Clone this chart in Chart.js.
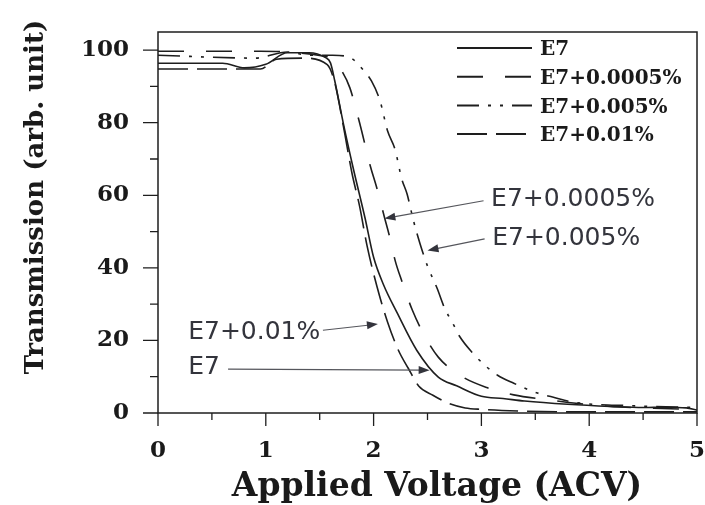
<!DOCTYPE html>
<html>
<head>
<meta charset="utf-8">
<script src="https://cdn.jsdelivr.net/npm/chart.js@4.4.1/dist/chart.umd.min.js"></script>
<style>
    html, body { margin: 0; padding: 0; background: #fff; }
</style>
</head>
<body>
<canvas id="myChart" width="705" height="505"></canvas>
<script>
// series names (legend order)
const seriesNames = ['E7', 'E7+0.0005%', 'E7+0.005%', 'E7+0.01%'];

// E7
const e7Voltage = [0, 0.6, 0.8, 1.0, 1.2, 1.4, 1.55, 1.6, 1.64, 1.72, 1.81, 1.92, 2.0, 2.09, 2.22, 2.4, 2.6, 2.77, 3.0, 3.2, 3.4, 3.8, 4.2, 4.5, 4.7, 4.9, 5.0];
const e7Trans = [96.4, 96.4, 95.1, 96.1, 99.3, 99.3, 98.0, 96.5, 91.5, 79.7, 67.6, 53.8, 42.9, 35.5, 27.5, 17.3, 9.9, 7.5, 4.6, 4.0, 3.3, 2.4, 1.8, 1.5, 1.6, 1.4, 0.8];

// E7+0.0005%
const e7a005Voltage = [0, 0.95, 1.2, 1.5, 1.62, 1.7, 1.78, 1.87, 1.97, 2.03, 2.1, 2.15, 2.2, 2.26, 2.36, 2.46, 2.6, 2.8, 3.05, 3.3, 3.6, 3.9, 4.2, 4.6, 5.0];
const e7a005Trans = [99.7, 99.7, 99.5, 98.5, 97.5, 94.5, 89.6, 80, 68, 62, 54, 48.4, 42, 36.5, 28.3, 22, 15.4, 10.4, 7, 5, 3.7, 2.6, 1.8, 1.3, 1.0];

// E7+0.005%
const e7b05Voltage = [0, 0.9, 1.2, 1.4, 1.62, 1.78, 1.89, 1.98, 2.06, 2.13, 2.2, 2.26, 2.31, 2.37, 2.43, 2.5, 2.59, 2.66, 2.73, 2.8, 2.92, 3.03, 3.15, 3.3, 3.52, 3.66, 3.85, 4.4, 5.0];
const e7b05Trans = [98.6, 97.8, 99.5, 98.6, 98.6, 98, 95, 91.5, 86, 77.7, 72.5, 64.6, 60.4, 53, 46.7, 40.5, 34.3, 28.8, 25, 21, 16.5, 13.2, 10.4, 8.2, 5.5, 4.4, 3.0, 2.0, 1.5];

// E7+0.01%
const e7c1Voltage = [0, 0.95, 1.1, 1.35, 1.57, 1.64, 1.72, 1.8, 1.87, 1.94, 2.03, 2.13, 2.23, 2.32, 2.42, 2.55, 2.7, 2.85, 3.0, 3.4, 4.0, 5.0];
const e7c1Trans = [94.8, 94.8, 97.5, 97.8, 96.0, 91, 79, 66, 57, 46, 35, 25, 17.3, 12.4, 7.4, 4.9, 2.6, 1.4, 1.0, 0.5, 0.3, 0.3];

// tick values
const xMajorTicks = [0, 1, 2, 3, 4, 5];
const xMinorTicks = [0.5, 1.5, 2.5, 3.5, 4.5];
const yMajorTicks = [0, 20, 40, 60, 80, 100];
const yMinorTicks = [10, 30, 50, 70, 90];

// arrow annotations (data coords)
const noteText = ['E7+0.0005%', 'E7+0.005%', 'E7+0.01%', 'E7'];
const noteAt = [[3.09, 58.8], [3.10, 48.2], [0.28, 22.3], [0.28, 12.6]];
const arrowFrom = [[3.02, 58.5], [3.03, 48.0], [1.53, 22.8], [0.65, 12.1]];
const arrowTo = [[2.10, 53.6], [2.50, 44.8], [2.04, 24.5], [2.52, 11.8]];

const lineDashes = [[], [26, 22], [22, 9, 3, 9, 3, 9], [30, 9]];

function toPoints(xs, ys) {
    return xs.map((x, i) => ({x: x, y: ys[i]}));
}

const serifBold = '"DejaVu Serif", serif';

const decor = {
    id: 'decor',
    afterDraw(chart) {
        const ctx = chart.ctx;
        const area = chart.chartArea;
        const xs = chart.scales.x;
        const ys = chart.scales.y;

        ctx.save();
        ctx.strokeStyle = '#1e1e1e';
        ctx.lineWidth = 1.5;
        ctx.setLineDash([]);
        ctx.strokeRect(area.left, area.top, area.right - area.left, area.bottom - area.top);

        // ticks
        ctx.lineWidth = 1.3;
        ctx.beginPath();
        xMajorTicks.forEach(v => {
            const px = xs.getPixelForValue(v);
            ctx.moveTo(px, area.bottom);
            ctx.lineTo(px, area.bottom + 13);
        });
        xMinorTicks.forEach(v => {
            const px = xs.getPixelForValue(v);
            ctx.moveTo(px, area.bottom);
            ctx.lineTo(px, area.bottom + 7);
        });
        yMajorTicks.forEach(v => {
            const py = ys.getPixelForValue(v);
            ctx.moveTo(area.left, py);
            ctx.lineTo(area.left - 15, py);
        });
        yMinorTicks.forEach(v => {
            const py = ys.getPixelForValue(v);
            ctx.moveTo(area.left, py);
            ctx.lineTo(area.left - 8, py);
        });
        ctx.stroke();

        // axis titles
        ctx.fillStyle = '#1a1a1a';
        ctx.font = 'bold 33px ' + serifBold;
        ctx.textAlign = 'center';
        ctx.textBaseline = 'middle';
        ctx.fillText('Applied Voltage (ACV)', 437, area.bottom + 74);

        ctx.save();
        ctx.translate(36, area.top + 165);
        ctx.rotate(-Math.PI / 2);
        ctx.font = 'bold 26px ' + serifBold;
        ctx.fillText('Transmission (arb. unit)', 0, 0);
        ctx.restore();

        // legend
        ctx.font = 'bold 20px ' + serifBold;
        ctx.textAlign = 'left';
        chart.data.datasets.forEach((ds, i) => {
            const y = area.top + 16 + i * 28.7;
            ctx.strokeStyle = '#1e1e1e';
            ctx.lineWidth = 2;
            ctx.setLineDash(ds.borderDash || []);
            ctx.beginPath();
            ctx.moveTo(area.right - 240, y);
            ctx.lineTo(area.right - 165, y);
            ctx.stroke();
            ctx.setLineDash([]);
            ctx.fillText(ds.label, area.right - 157, y + 2);
        });

        // arrow notes
        ctx.font = '25px "DejaVu Sans", sans-serif';
        noteText.forEach((t, i) => {
            ctx.fillStyle = '#33343c';
            ctx.fillText(t, xs.getPixelForValue(noteAt[i][0]), ys.getPixelForValue(noteAt[i][1]));
            const x0 = xs.getPixelForValue(arrowFrom[i][0]);
            const y0 = ys.getPixelForValue(arrowFrom[i][1]);
            const x1 = xs.getPixelForValue(arrowTo[i][0]);
            const y1 = ys.getPixelForValue(arrowTo[i][1]);
            const ang = Math.atan2(y1 - y0, x1 - x0);
            ctx.strokeStyle = '#55565c';
            ctx.lineWidth = 1.2;
            ctx.beginPath();
            ctx.moveTo(x0, y0);
            ctx.lineTo(x1 - 8 * Math.cos(ang), y1 - 8 * Math.sin(ang));
            ctx.stroke();
            ctx.beginPath();
            ctx.moveTo(x1, y1);
            ctx.lineTo(x1 - 11 * Math.cos(ang) + 4 * Math.sin(ang), y1 - 11 * Math.sin(ang) - 4 * Math.cos(ang));
            ctx.lineTo(x1 - 11 * Math.cos(ang) - 4 * Math.sin(ang), y1 - 11 * Math.sin(ang) + 4 * Math.cos(ang));
            ctx.closePath();
            ctx.fill();
        });
        ctx.restore();
    }
};

const seriesX = [e7Voltage, e7a005Voltage, e7b05Voltage, e7c1Voltage];
const seriesY = [e7Trans, e7a005Trans, e7b05Trans, e7c1Trans];

const datasets = seriesNames.map((name, i) => ({
    label: name,
    data: toPoints(seriesX[i], seriesY[i]),
    borderColor: '#1e1e1e',
    borderWidth: 1.6,
    borderDash: lineDashes[i],
    pointRadius: 0,
    fill: false,
    cubicInterpolationMode: 'monotone'
}));

const myChart = new Chart(document.getElementById('myChart'), {
    type: 'line',
    data: {datasets: datasets},
    plugins: [decor],
    options: {
        responsive: false,
        animation: false,
        devicePixelRatio: 1,
        layout: {padding: {top: 32, right: 8, left: 0, bottom: 0}},
        plugins: {
            legend: {display: false},
            tooltip: {enabled: false}
        },
        scales: {
            x: {
                type: 'linear',
                min: 0,
                max: 5,
                grid: {display: false},
                border: {display: false},
                ticks: {
                    stepSize: 1,
                    padding: 16,
                    color: '#1a1a1a',
                    font: {family: serifBold, size: 23, weight: 'bold'}
                },
                afterFit(scale) {
                    scale.height = 92;
                    scale.paddingLeft = 0;
                    scale.paddingRight = 0;
                }
            },
            y: {
                min: 0,
                max: 105,
                grid: {display: false},
                border: {display: false},
                ticks: {
                    stepSize: 20,
                    includeBounds: false,
                    padding: 21,
                    color: '#1a1a1a',
                    font: {family: serifBold, size: 23, weight: 'bold'}
                },
                afterFit(scale) {
                    scale.width = 158;
                    scale.paddingTop = 0;
                    scale.paddingBottom = 0;
                }
            }
        }
    }
});
</script>
</body>
</html>
